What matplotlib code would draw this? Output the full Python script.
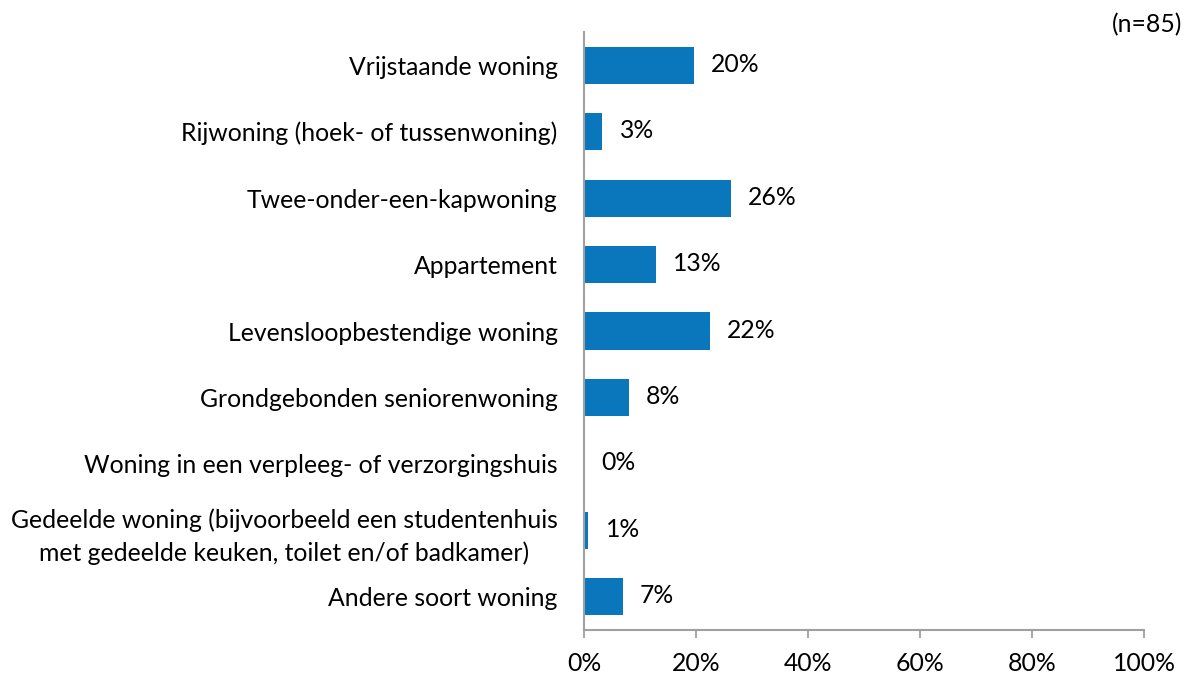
import matplotlib
matplotlib.use("Agg")
import matplotlib.pyplot as plt
from matplotlib.ticker import FixedLocator, FuncFormatter

categories = [
    "Vrijstaande woning",
    "Rijwoning (hoek- of tussenwoning)",
    "Twee-onder-een-kapwoning",
    "Appartement",
    "Levensloopbestendige woning",
    "Grondgebonden seniorenwoning",
    "Woning in een verpleeg- of verzorgingshuis",
    "Gedeelde woning (bijvoorbeeld een studentenhuis\nmet gedeelde keuken, toilet en/of badkamer)",
    "Andere soort woning",
]
values = [19.6, 3.3, 26.2, 12.9, 22.5, 8.0, 0.0, 0.8, 6.9]
value_labels = ["20%", "3%", "26%", "13%", "22%", "8%", "0%", "1%", "7%"]
x_ticks = [0, 20, 40, 60, 80, 100]
note = "(n=85)"

plt.rcParams['font.family'] = ['Lato', 'DejaVu Sans']
FS = 17.8
BAR = '#0A77BD'
AX = '#A0A0A0'

fig = plt.figure(figsize=(11.92, 6.77), dpi=100)
ax = fig.add_axes([584/1192, 1-630/677, (1144-584)/1192, (630-32)/677])

y = list(range(len(categories)))
ax.barh(y, values, height=0.56, color=BAR)
ax.set_ylim(len(categories)-0.5, -0.5)
ax.set_xlim(0, 100)

for yi, v, lab in zip(y, values, value_labels):
    ax.annotate(lab, xy=(v, yi), xytext=(17, 1), textcoords='offset pixels',
                ha='left', va='center', fontsize=FS, color='#000000')

ax.set_yticks(y)
ax.set_yticklabels(categories, fontsize=FS, multialignment='center', linespacing=1.45)
ax.tick_params(axis='y', length=0, pad=19)

ax.xaxis.set_major_locator(FixedLocator(x_ticks))
ax.xaxis.set_major_formatter(FuncFormatter(lambda v, p: f"{int(v)}%"))
ax.tick_params(axis='x', length=6, width=1.3, color=AX, labelsize=FS, pad=10)

for s in ['top', 'right']:
    ax.spines[s].set_visible(False)
for s in ['left', 'bottom']:
    ax.spines[s].set_color(AX)
    ax.spines[s].set_linewidth(1.5)

fig.text(1182/1192, 1-25/677, note, ha='right', va='center', fontsize=FS)

fig.savefig("out.png", dpi=100)
